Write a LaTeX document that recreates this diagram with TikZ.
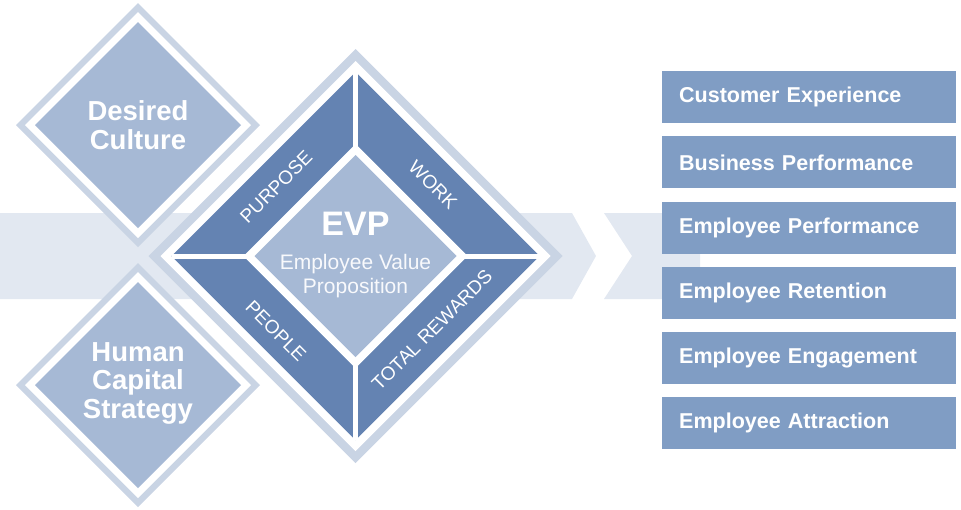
\documentclass[tikz,border=0pt]{standalone}
\usepackage{fontspec}
\setmainfont{Liberation Sans}
\usetikzlibrary{positioning}
\usepackage{xcolor}
\definecolor{bandgray}{RGB}{226,232,241}
\definecolor{halogray}{RGB}{201,212,228}
\definecolor{paleblue}{RGB}{166,185,213}
\definecolor{evpblue}{RGB}{100,131,178}
\definecolor{boxblue}{RGB}{128,157,196}

% filled rhombus: centre x, centre y, half diagonal, colour
\newcommand{\rhombus}[4]{\fill[#4] ({#1},{#2-#3}) -- ({#1+#3},{#2}) -- ({#1},{#2+#3}) -- ({#1-#3},{#2}) -- cycle;}

\tikzset{
  diamondtext/.style={text=white, align=center, font=\bfseries\fontsize{27.5}{28.5}\selectfont},
  striplabel/.style={text=white, font=\fontsize{19}{22}\selectfont},
  outcome/.style={fill=boxblue, text=white, anchor=north west, minimum width=294pt, minimum height=52pt,
    inner xsep=17pt, text width=260pt, align=left, font=\bfseries\fontsize{21.5}{24}\selectfont}
}

\begin{document}
\begin{tikzpicture}[x=1pt, y=-1pt]
    \useasboundingbox (0,0) rectangle (961,509);

    % Background band with chevrons
    \fill[bandgray] (0,213) -- (572,213) -- (596,256) -- (572,299) -- (0,299) -- cycle;
    \fill[bandgray] (604,213) -- (700,213) -- (700,299) -- (604,299) -- (632,256) -- cycle;

    % Desired Culture diamond
    \rhombus{138}{125}{122}{halogray}
    \rhombus{138}{125}{113}{white}
    \rhombus{138}{125}{103}{paleblue}
    \node[diamondtext] (culture) at (138,125) {Desired\\Culture};

    % Human Capital Strategy diamond
    \rhombus{138}{385}{122}{halogray}
    \rhombus{138}{385}{113}{white}
    \rhombus{138}{385}{103}{paleblue}
    \node[diamondtext] (strategy) at (138,383) {Human\\Capital\\Strategy};

    % EVP diamond
    \rhombus{355.5}{256}{207}{halogray}
    \rhombus{355.5}{256}{195}{white}
    \rhombus{355.5}{256}{184}{evpblue}
    \draw[white, line width=5pt] (355.5,72) -- (355.5,440);
    \draw[white, line width=5pt] (171.5,256) -- (539.5,256);
    \rhombus{355.5}{256}{112}{white}
    \rhombus{355.5}{256}{101}{paleblue}

    % Centre texts
    \node[text=white, font=\bfseries\fontsize{34}{36}\selectfont] (evp) at (355.5,224) {EVP};
    \node[text=white!92!paleblue, align=center, font=\fontsize{21}{24}\selectfont] (evpname) at (355.5,276) {Employee Value\\Proposition};

    % Strip labels
    \node[striplabel, rotate=45] (purpose) at (276,187) {PURPOSE};
    \node[striplabel, rotate=-45] (work) at (433,185) {WORK};
    \node[striplabel, rotate=-45] (people) at (276,331) {PEOPLE};
    \node[striplabel, rotate=45] (rewards) at (432,330) {TOTAL REWARDS};

    % Outcome boxes
    \foreach \txt [count=\i from 0] in {Customer Experience, Business Performance, Employee Performance,
        Employee Retention, Employee Engagement, Employee Attraction}
        \node[outcome] (out\i) at (662,{71+65.2*\i}) {\txt};
\end{tikzpicture}
\end{document}
